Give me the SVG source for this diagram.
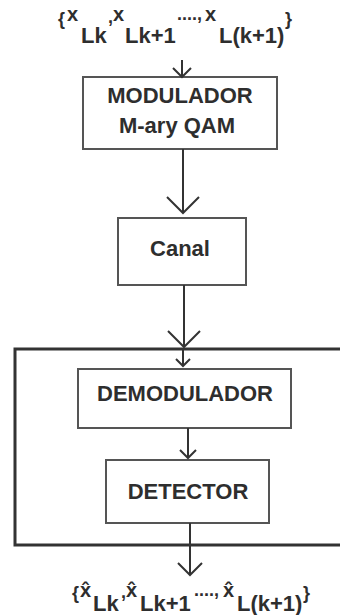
<svg xmlns="http://www.w3.org/2000/svg" width="340" height="615" viewBox="0 0 340 615">
<style>
.box{fill:#fff;stroke:#555;stroke-width:2}
.lbl{font-family:"Liberation Sans",Arial,sans-serif;font-weight:bold;font-size:22px;fill:#2e2e2e;text-anchor:middle}
.f{font-family:"Liberation Sans",Arial,sans-serif;font-weight:bold;fill:#2e2e2e}
.sm{font-size:18px}
.xs{font-size:20px}
.big{font-size:22px}
.ln{fill:none;stroke:#333;stroke-width:2}
.hd{fill:none;stroke:#333;stroke-width:2;stroke-linejoin:miter}
</style>
<rect width="340" height="615" fill="#fff"/>

<g id="input" class="f">
<text x="58" y="25" class="sm">{</text>
<text x="67" y="21" class="xs">x</text>
<text x="81" y="43" class="big">Lk</text>
<text x="108" y="23" class="sm">,</text>
<text x="113" y="21" class="xs">x</text>
<text x="125" y="43" class="big">Lk+1</text>
<text x="177" y="20" class="sm">....,</text>
<text x="205" y="21" class="xs">x</text>
<text x="219" y="43" class="big">L(k+1)</text>
<text x="285" y="25" class="sm">}</text>
</g>

<g id="outer">
<rect x="15" y="349" width="335" height="196" fill="none" stroke="#333" stroke-width="3"/>
</g>

<g id="modulador">
<rect class="box" x="83" y="77" width="194" height="72"/>
<text class="lbl" x="180" y="103">MODULADOR</text>
<text class="lbl" x="177" y="133">M-ary QAM</text>
</g>

<g id="canal">
<rect class="box" x="118" y="218" width="128" height="67"/>
<text class="lbl" x="180" y="256">Canal</text>
</g>

<g id="demodulador">
<rect class="box" x="78" y="369" width="213" height="59"/>
<text class="lbl" x="185" y="401" font-size="22.5">DEMODULADOR</text>
</g>

<g id="detector">
<rect class="box" x="106" y="460" width="163" height="63"/>
<text class="lbl" x="188" y="499" font-size="22.5">DETECTOR</text>
</g>

<g id="connectors">
<path class="ln" d="M182 60V77"/>
<path class="hd" d="M173 68L182 77L191 68"/>
<path class="ln" d="M183 149V213"/>
<path class="hd" d="M167 197L183 213L199 197"/>
<path class="ln" d="M184 285V347"/>
<path class="hd" d="M168 331L184 347L200 331"/>
<path class="ln" d="M183 349V366"/>
<path class="hd" d="M176 359L183 366L190 359"/>
<path class="ln" d="M188 428V458"/>
<path class="hd" d="M180 450L188 458L196 450"/>
<path class="ln" d="M190 523V575"/>
<path class="hd" d="M178 563L190 575L202 563"/>
</g>

<g id="output" class="f">
<text x="72" y="599" class="sm">{</text>
<text x="80" y="597" class="xs">x&#x302;</text>
<text x="93" y="611" class="big">Lk</text>
<text x="121" y="598" class="sm">,</text>
<text x="126" y="597" class="xs">x&#x302;</text>
<text x="140" y="611" class="big">Lk+1</text>
<text x="194" y="596" class="sm">....,</text>
<text x="223" y="597" class="xs">x&#x302;</text>
<text x="237" y="611" class="big">L(k+1)</text>
<text x="303" y="599" class="sm">}</text>
</g>
</svg>
